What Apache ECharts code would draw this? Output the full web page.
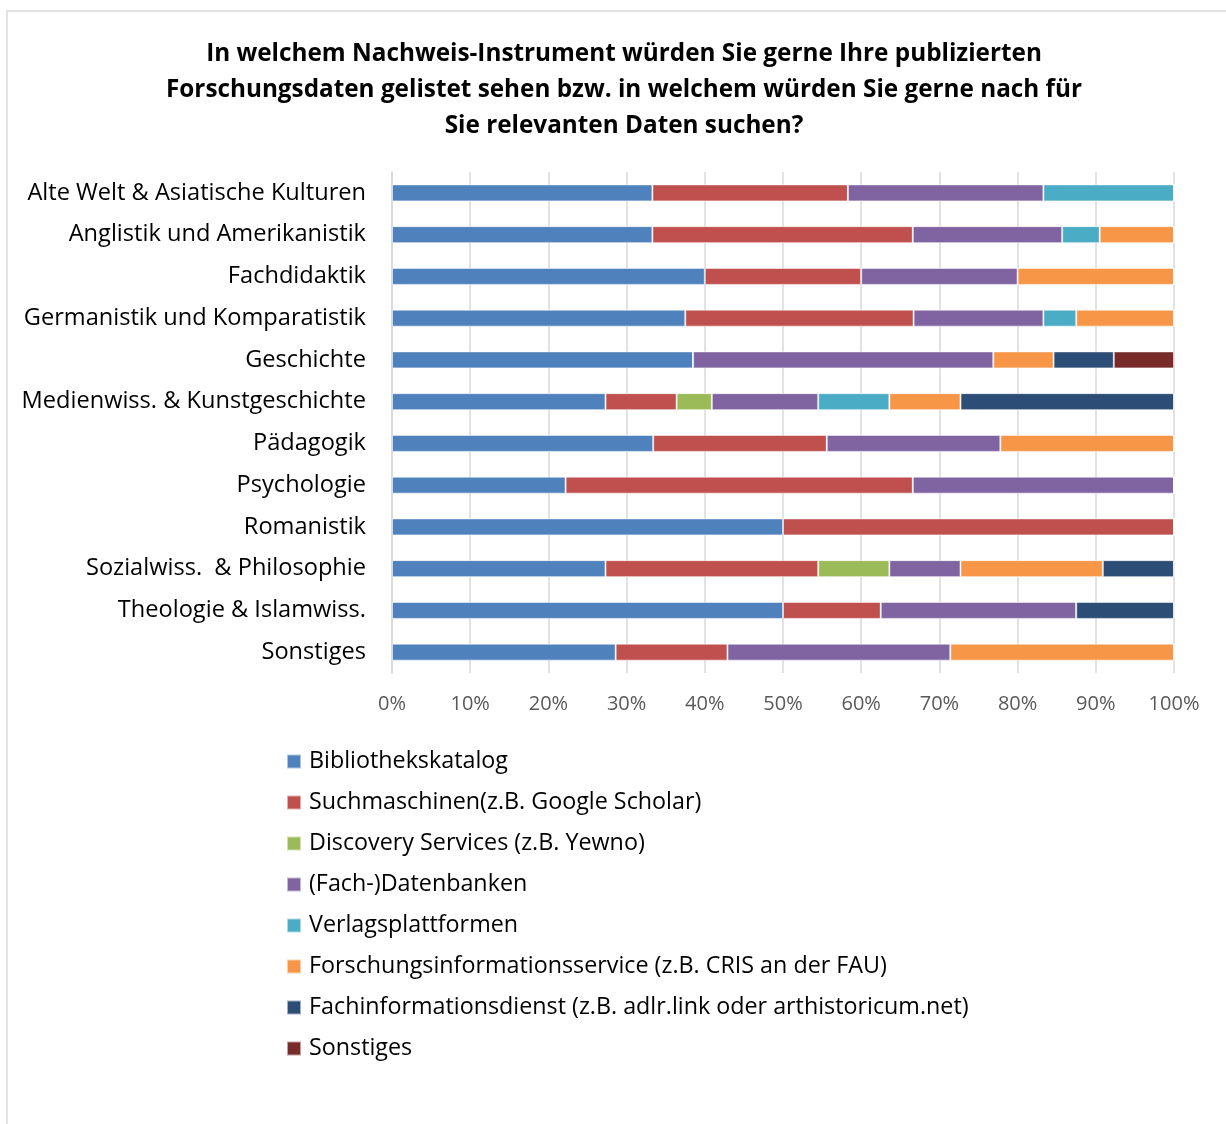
<!DOCTYPE html>
<html>
<head>
<meta charset="utf-8">
<script src="https://cdn.jsdelivr.net/npm/echarts@6/dist/echarts.min.js"></script>
<style>html,body{margin:0;padding:0;background:#fff;}#chart{width:1226px;height:1124px;}</style>
</head>
<body>
<div id="chart"></div>
<script>
const categories = ['Alte Welt & Asiatische Kulturen','Anglistik und Amerikanistik','Fachdidaktik','Germanistik und Komparatistik','Geschichte','Medienwiss. & Kunstgeschichte','Pädagogik','Psychologie','Romanistik','Sozialwiss.  & Philosophie','Theologie & Islamwiss.','Sonstiges'];
const seriesNames = ['Bibliothekskatalog','Suchmaschinen(z.B. Google Scholar)','Discovery Services (z.B. Yewno)','(Fach-)Datenbanken','Verlagsplattformen','Forschungsinformationsservice (z.B. CRIS an der FAU)','Fachinformationsdienst (z.B. adlr.link oder arthistoricum.net)','Sonstiges'];
const bibliothekskatalog = [33.3, 33.3, 40, 37.5, 38.5, 27.3, 33.4, 22.2, 50, 27.3, 50, 28.6];
const suchmaschinen      = [25, 33.3, 20, 29.2, 0, 9.1, 22.2, 44.4, 50, 27.2, 12.5, 14.3];
const discovery          = [0, 0, 0, 0, 0, 4.5, 0, 0, 0, 9.1, 0, 0];
const datenbanken        = [25, 19.1, 20, 16.6, 38.4, 13.6, 22.2, 33.4, 0, 9.1, 25, 28.5];
const verlag             = [16.7, 4.8, 0, 4.2, 0, 9.1, 0, 0, 0, 0, 0, 0];
const forschungsinfo     = [0, 9.5, 20, 12.5, 7.7, 9.1, 22.2, 0, 0, 18.2, 0, 28.6];
const fachinfo           = [0, 0, 0, 0, 7.7, 27.3, 0, 0, 0, 9.1, 12.5, 0];
const sonstiges          = [0, 0, 0, 0, 7.7, 0, 0, 0, 0, 0, 0, 0];
const xTicks = [0, 10, 20, 30, 40, 50, 60, 70, 80, 90, 100];

const allValues = [bibliothekskatalog, suchmaschinen, discovery, datenbanken, verlag, forschungsinfo, fachinfo, sonstiges];
const colors = ['#4F81BD','#C0504D','#9BBB59','#8064A2','#4BACC6','#F79646','#2C4D75','#772C2A'];
const FONT = '"Open Sans", "Noto Sans", sans-serif';

const chart = echarts.init(document.getElementById('chart'), null, {renderer: 'canvas'});
chart.setOption({
  animation: false,
  backgroundColor: '#fff',
  color: colors,
  graphic: [{
    type: 'rect', x: 7, y: 11, silent: true,
    shape: {x: 0, y: 0, width: 1240, height: 1140},
    style: {fill: 'none', stroke: '#d9d9d9', lineWidth: 1.5}
  }],
  title: {
    text: 'In welchem Nachweis-Instrument würden Sie gerne Ihre publizierten\nForschungsdaten gelistet sehen bzw. in welchem würden Sie gerne nach für\nSie relevanten Daten suchen?',
    left: 619, top: 31, textAlign: 'center',
    textStyle: {fontFamily: FONT, fontWeight: 'bold', fontSize: 24.3, lineHeight: 36, color: '#000'}
  },
  legend: {
    orient: 'vertical', left: 281, top: 745,
    icon: 'rect', itemWidth: 14, itemHeight: 14, itemGap: 18,
    data: seriesNames,
    textStyle: {fontFamily: FONT, fontSize: 23.3, lineHeight: 23, color: '#000', padding: [0, 0, 0, 3]}
  },
  grid: {left: 392, right: 52, top: 172, bottom: 451},
  xAxis: {
    type: 'value', min: 0, max: 100, interval: 10,
    axisLine: {show: false}, axisTick: {show: false},
    splitLine: {show: true, lineStyle: {color: '#d9d9d9', width: 1.5}},
    axisLabel: {formatter: v => xTicks.includes(v) ? v + '%' : '', margin: 21, fontFamily: FONT, fontSize: 20, color: '#595959'}
  },
  yAxis: {
    type: 'category', data: categories, inverse: true,
    axisLine: {show: true, lineStyle: {color: '#d9d9d9', width: 1.5}},
    axisTick: {show: false},
    axisLabel: {margin: 26, fontFamily: FONT, fontSize: 23.6, color: '#000'}
  },
  series: seriesNames.map((name, i) => ({
    name, type: 'bar', stack: 'total', barWidth: 17,
    data: allValues[i],
    itemStyle: {color: colors[i], borderColor: 'rgba(255,255,255,0.55)', borderWidth: 1}
  }))
});
</script>
</body>
</html>
